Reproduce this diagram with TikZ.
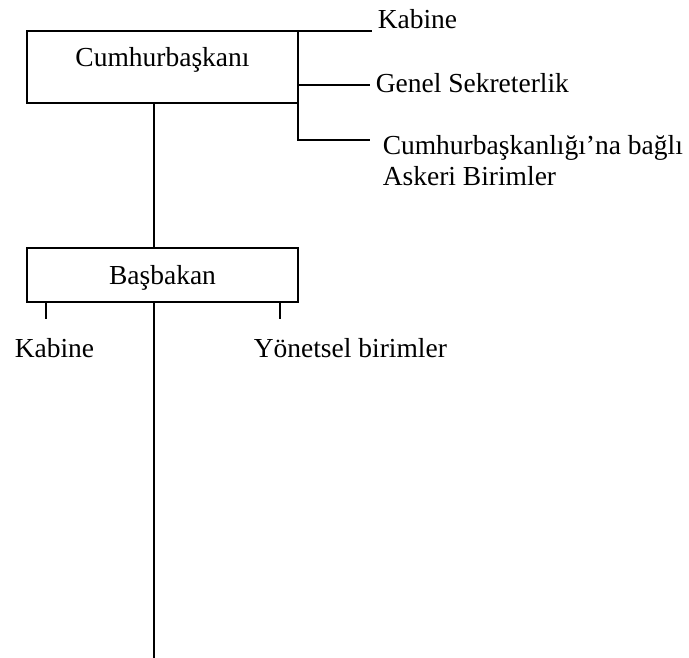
\documentclass[tikz,border=0pt]{standalone}
\usepackage{fontspec}
\setmainfont{Liberation Serif}
\begin{document}
\begin{tikzpicture}[x=1pt,y=-1pt,line width=1.5pt,
  txt/.style={inner sep=0pt,font=\fontsize{27.5}{31}\selectfont},
  lbl/.style={txt,anchor=base west},
  office/.style={draw,anchor=north west,minimum width=271pt,inner sep=0pt,outer sep=0pt}]
\useasboundingbox (0,0) rectangle (689,658);

% President's office and its attached units
\node[office,minimum height=72pt] (cb) at (27,31) {};
\node[txt,anchor=base] (cbt) at (162.5,67) {Cumhurbaşkanı};
\node[lbl] (kab1) at (377,29) {Kabine};
\node[lbl] (gs) at (375,93) {Genel Sekreterlik};
\node[lbl] (ask) at (382,155) {Cumhurbaşkanlığı’na bağlı};
\node[lbl] (ask2) at (382,186) {Askeri Birimler};

\coordinate (kab1e) at (372,31);
\coordinate (gsj) at (298,85);
\coordinate (gse) at (370,85);
\coordinate (askj) at (298,140);
\coordinate (aske) at (370,140);
\draw (cb.north east) -- (kab1e);
\draw (cb.north east) -- (askj) -- (aske);
\draw (gsj) -- (gse);

% Prime minister's office
\node[office,minimum height=54pt] (bb) at (27,248) {};
\node[txt,anchor=base] (bbt) at (162.5,284) {Başbakan};
\node[lbl] (kab2) at (14,357) {Kabine};
\node[lbl] (ys) at (253,357) {Yönetsel birimler};

\coordinate (cbs) at (154,103);
\coordinate (bbn) at (154,248);
\coordinate (bbs) at (154,302);
\coordinate (bottom) at (154,658);
\coordinate (t1a) at (46,302);
\coordinate (t1b) at (46,319);
\coordinate (t2a) at (280,302);
\coordinate (t2b) at (280,319);
\draw (cbs) -- (bbn);
\draw (bbs) -- (bottom);
\draw (t1a) -- (t1b);
\draw (t2a) -- (t2b);
\end{tikzpicture}
\end{document}
